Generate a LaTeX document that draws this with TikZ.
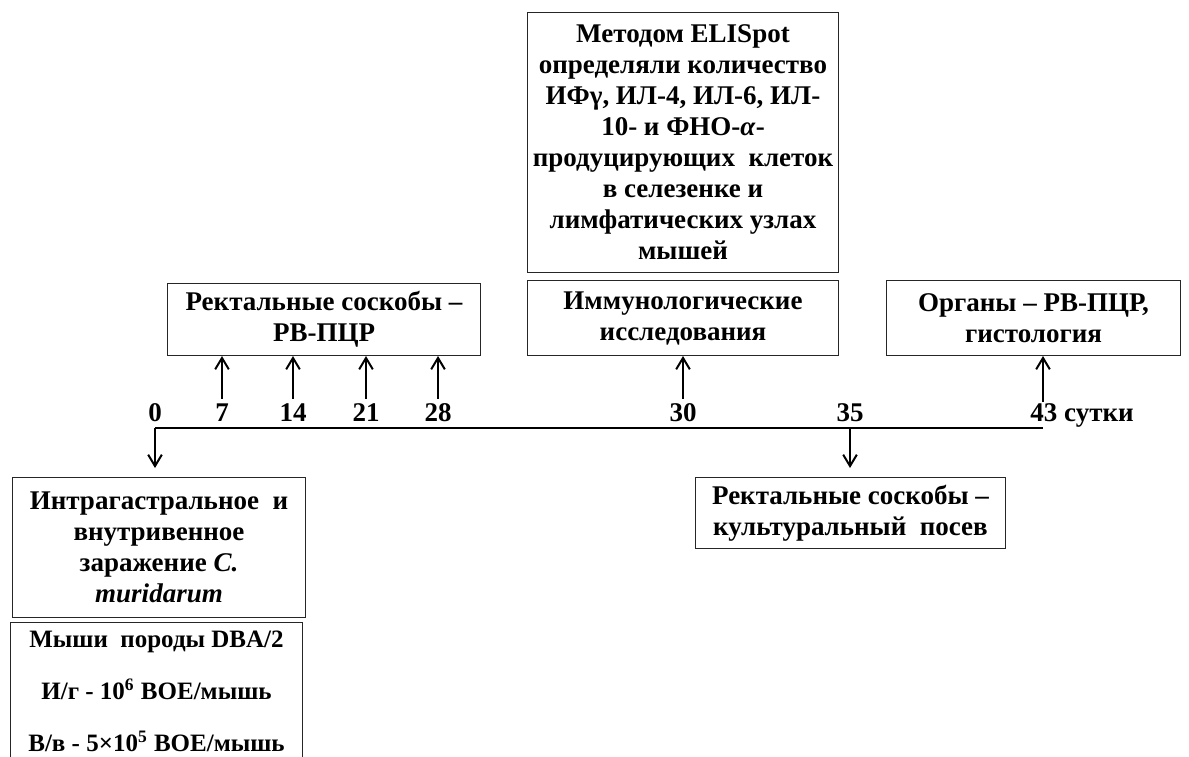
\documentclass[tikz,border=0pt]{standalone}
\usepackage{fontspec}
\setmainfont{Liberation Serif}[BoldFont={Liberation Serif Bold}, ItalicFont={Liberation Serif Italic}, BoldItalicFont={Liberation Serif Bold Italic}]
\usetikzlibrary{positioning}
\usetikzlibrary{arrows.meta, calc}

\begin{document}
\begin{tikzpicture}
  [
    x=0.5pt, y=-0.5pt,
    every node/.style={font=\fontsize{13.5}{15.5}\selectfont\bfseries},
    align=center
  ]
      \tikzset{
        >={Straight Barb[length=2mm,width=2.4mm]},
        base/.style = {rectangle, draw=black!85, line width=0.5pt,
                       inner sep=0pt, anchor=north west, text centered},
        wideblock/.style = {base, minimum width=155.5pt},
        shortblock/.style = {base, minimum height=36pt},
        daylabel/.style = {inner sep=1pt, anchor=base},
        timeline/.style = {line width=1pt},
        marker/.style = {->, line width=1pt},
    }
    \useasboundingbox (0,0) rectangle (1189,756);

    % boxes above the time axis
    \node (elispot) [wideblock, minimum height=130pt] at (527,12)
      {Методом ELISpot\\ определяли количество\\ ИФγ, ИЛ-4, ИЛ-6, ИЛ-\\ 10- и ФНО-\textit{α}-\\
       продуцирующих~ клеток\\ в селезенке и\\ лимфатических узлах\\ мышей};
    \node (immuno) [wideblock, shortblock, minimum height=37.5pt] at (527,280)
      {Иммунологические\\ исследования};
    \node (organs) [shortblock, minimum width=147pt, minimum height=37.5pt] at (886,280)
      {Органы -- РВ-ПЦР,\\ гистология};
    \node (rectpcr) [shortblock, minimum width=156.5pt] at (167,283)
      {Ректальные соскобы --\\ РВ-ПЦР};

    % boxes below the time axis
    \node (infect) [base, minimum width=146.5pt, minimum height=70pt] at (12,477)
      {Интрагастральное~ и\\ внутривенное\\ заражение \textit{C.}\\ \textit{muridarum}};
    \node (mice) [base, minimum width=146pt, minimum height=69pt,
                  font=\fontsize{12.5}{15}\selectfont\bfseries] at (10,622)
      {Мыши~ породы DBA/2\\[11pt] И/г - 10\textsuperscript{6} ВОЕ/мышь\\[11pt] В/в - 5×10\textsuperscript{5} ВОЕ/мышь};
    \node (rectcult) [base, minimum width=155pt, minimum height=35.5pt] at (695,477)
      {Ректальные соскобы --\\ культуральный~ посев};

    % time axis
    \coordinate (d0) at (155,428);
    \coordinate (d35) at (850,428);
    \coordinate (d43) at (1043,428);
    \draw[timeline] (d0) -- (d43);

    \node (l0) [daylabel] at (155,421) {0};
    \foreach \d/\x in {7/222, 14/293, 21/366, 28/438}
    {
      \node (l\d) [daylabel] at (\x,421) {\d};
      \draw[marker] (l\d.north) ++(0,-2) -- (rectpcr.south -| l\d);
    }
    \node (l30) [daylabel] at (683,421) {30};
    \node (l35) [daylabel] at (850,421) {35};
    \node (l43) [daylabel, anchor=base west] at (1028,421) {43 сутки};
    \coordinate (c43) at (1043,402);

    \draw[marker] (l30.north) ++(0,-2) -- (immuno.south -| l30);
    \draw[marker] (c43) -- (organs.south -| c43);
    \draw[marker, shorten >=4.5pt] (d0) -- (infect.north -| d0);
    \draw[marker, shorten >=4.5pt] (d35) -- (rectcult.north -| d35);
\end{tikzpicture}
\end{document}
